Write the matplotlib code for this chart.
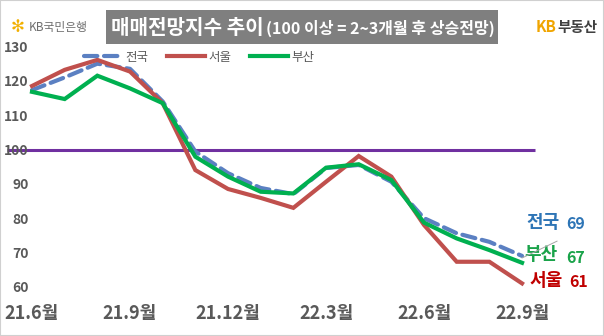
import matplotlib
matplotlib.use("Agg")
import matplotlib.pyplot as plt
from matplotlib.patches import Rectangle

plt.rcParams['font.family'] = ['Noto Sans CJK KR', 'DejaVu Sans']

months = ['21.6', '21.7', '21.8', '21.9', '21.10', '21.11', '21.12', '22.1',
          '22.2', '22.3', '22.4', '22.5', '22.6', '22.7', '22.8', '22.9']
nation = [117.3, 121.0, 125.0, 123.5, 114.0, 99.4, 93.1, 88.8,
          87.0, 94.6, 95.5, 90.6, 80.0, 75.6, 73.1, 69.0]
seoul = [118.5, 123.2, 126.1, 122.7, 113.5, 94.0, 88.5, 85.9,
         83.0, 90.6, 98.1, 92.1, 78.0, 67.3, 67.3, 61.0]
busan = [116.8, 114.7, 121.5, 117.8, 113.5, 97.9, 92.1, 87.7,
         87.2, 94.7, 95.7, 91.1, 78.7, 74.1, 70.7, 67.0]
yticks = [60, 70, 80, 90, 100, 110, 120, 130]
xtick_idx = [0, 3, 6, 9, 12, 15]
xtick_labels = ['21.6월', '21.9월', '21.12월', '22.3월', '22.6월', '22.9월']

W, H = 604, 336
fig = plt.figure(figsize=(W / 100, H / 100), dpi=100)
fig.patch.set_facecolor('white')
ax = fig.add_axes([0, 0, 1, 1])
ax.set_facecolor('none')

px_per_idx = 32.67
x0 = 32
ax.set_xlim(-x0 / px_per_idx, (W - x0) / px_per_idx)
py100 = 149.5
py_per_unit = 3.433
ax.set_ylim(100 - (H - py100) / py_per_unit, 100 + py100 / py_per_unit)

for s in ax.spines.values():
    s.set_visible(False)

idx = list(range(len(months)))

ax.hlines(100, -0.77, 15.4, color='#7030a0', lw=2.2, zorder=1)

ax.plot(idx, nation, color='#5b80c2', lw=3.0, dashes=(3.2, 1.6),
        dash_capstyle='round', zorder=2, label='전국')
ax.plot(idx, seoul, color='#c0504d', lw=3.0, solid_joinstyle='miter', zorder=3, label='서울')
ax.plot(idx, busan, color='#00b050', lw=3.0, solid_joinstyle='miter', zorder=4, label='부산')

# ticks
tick_col = '#595959'
ax.set_yticks(yticks)
ax.set_yticklabels([str(v) for v in yticks])
ax.tick_params(axis='y', direction='in', length=0, pad=-20.5, labelsize=10,
               labelcolor=tick_col)
for t in ax.get_yticklabels():
    t.set_fontweight('bold')
ax.set_xticks(xtick_idx)
ax.set_xticklabels(xtick_labels)
ax.tick_params(axis='x', direction='in', length=0, pad=-23, labelsize=13,
               labelcolor=tick_col)
for t in ax.get_xticklabels():
    t.set_fontweight('bold')

# legend
leg = ax.legend(loc='center left', bbox_to_anchor=(84 / W, 1 - 57 / H), ncol=3,
                frameon=False, fontsize=9, handlelength=3.0, handletextpad=0.3,
                columnspacing=1.5, borderpad=0, borderaxespad=0)
for t in leg.get_texts():
    t.set_color(tick_col)

# title box
fig.patches.append(Rectangle((106 / W, 1 - 44 / H), (498 - 106) / W, (44 - 10) / H,
                             transform=fig.transFigure, facecolor='#7f7f7f',
                             edgecolor='none', zorder=5))
fig.text(111 / W, 1 - 27 / H, '매매전망지수 추이', color='white', fontsize=14.5,
         fontweight='bold', va='center', ha='left', zorder=6)
fig.text(266 / W, 1 - 28.5 / H, '(100 이상 = 2~3개월 후 상승전망)', color='white',
         fontsize=11.5, fontweight='bold', va='center', ha='left', zorder=6)

# logos
fig.text(11 / W, 1 - 27 / H, '✻', color='#f2b000', fontsize=12, va='center', ha='left',
         family=['DejaVu Sans'], fontweight='bold')
fig.text(29 / W, 1 - 27 / H, 'KB국민은행', color='#6f6f6f', fontsize=8.5,
         va='center', ha='left')
fig.text(536 / W, 1 - 27 / H, 'KB', color='#f0a500', fontsize=11, fontweight='bold',
         va='center', ha='left')
fig.text(557 / W, 1 - 27 / H, '부동산', color='#404040', fontsize=10.5,
         fontweight='bold', va='center', ha='left')

# end labels
ax.plot([15.0, 16.07], [68.4, 73.3], color='#a6a6a6', lw=0.7, zorder=5)
def px_to_data(px, py):
    return (px - x0) / px_per_idx, 100 + (py100 - py) / py_per_unit

lx, ly = px_to_data(526, 223)
ax.text(lx, ly, '전국', color='#2e75b6', fontsize=13, fontweight='bold', va='center', ha='left')
lx, ly = px_to_data(566, 224)
ax.text(lx, ly, f'{nation[-1]:.0f}', color='#2e75b6', fontsize=11.5, fontweight='bold', va='center', ha='left')
lx, ly = px_to_data(524, 254)
ax.text(lx, ly, '부산', color='#1aa34a', fontsize=13, fontweight='bold', va='center', ha='left')
lx, ly = px_to_data(566, 258)
ax.text(lx, ly, f'{busan[-1]:.0f}', color='#1aa34a', fontsize=11.5, fontweight='bold', va='center', ha='left')
lx, ly = px_to_data(529, 280)
ax.text(lx, ly, '서울', color='#c00000', fontsize=13, fontweight='bold', va='center', ha='left')
lx, ly = px_to_data(569, 282)
ax.text(lx, ly, f'{seoul[-1]:.0f}', color='#c00000', fontsize=11.5, fontweight='bold', va='center', ha='left')

# border
fig.patches.append(Rectangle((0, 0), 1, 1, transform=fig.transFigure, fill=False,
                             edgecolor='#d0d0d0', lw=1.5, zorder=10))

fig.savefig('out.png', dpi=100, facecolor='white')
